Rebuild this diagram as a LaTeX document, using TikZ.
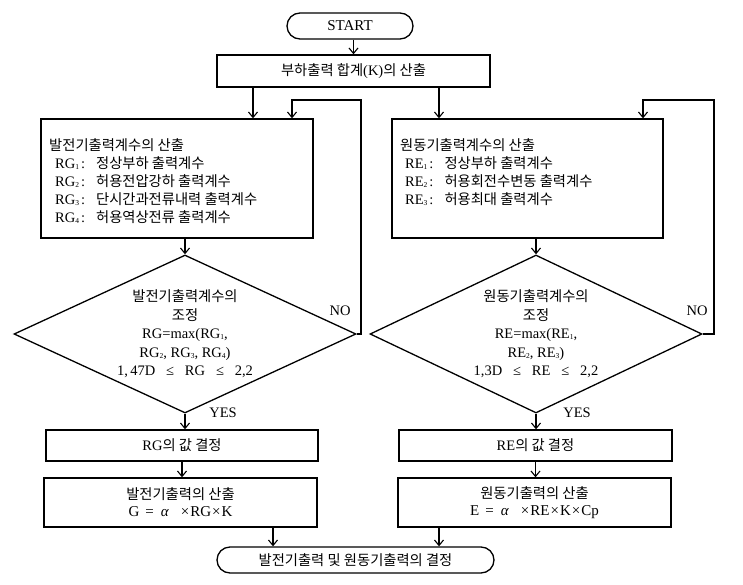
\documentclass[tikz,border=0pt]{standalone}
\usepackage{fontspec}
\setmainfont{Liberation Serif}
\newfontfamily\krf{Noto Sans CJK KR}
\usetikzlibrary{arrows.meta,shapes.geometric}
\newcommand\K[1]{{\krf\fontsize{14.3}{18}\selectfont #1}}
\newcommand\sub[1]{\raisebox{-1pt}{\fontsize{7.5}{7.5}\selectfont #1}}
\begin{document}
\begin{tikzpicture}[x=1pt,y=-1pt,
  font=\fontsize{14.5}{18.5}\selectfont,
  lw/.style={line width=1.3pt},
  boxn/.style={draw,lw,inner sep=0pt,minimum width=#1},
  term/.style={draw,lw,inner sep=0pt,minimum width=#1,minimum height=26pt,rounded corners=13pt},
  dia/.style={draw,lw,diamond,inner sep=0pt,minimum width=#1,minimum height=158pt},
  txt/.style={inner sep=0pt,align=center},
  ltxt/.style={inner sep=0pt,anchor=west},
  arr/.style={lw,-{Straight Barb[length=5.5pt,width=9pt,line width=1.1pt]}}]
\useasboundingbox (0,0) rectangle (743,585);
% terminals and boxes
\node[term=126pt] (start) at (350,26) {\fontsize{15}{16}\selectfont START};
\node[boxn=273pt,minimum height=32pt] (kbox) at (353.5,71) {\K{부하출력 합계}(K)\K{의 산출}};
\node[boxn=272pt,minimum height=119pt] (lbox) at (177,178.5) {};
\node[boxn=271pt,minimum height=119pt] (rbox) at (527.5,178.5) {};
\node[dia=342pt] (ldia) at (185,334) {};
\node[dia=332pt] (rdia) at (536,334) {};
\node[boxn=272pt,minimum height=31pt] (rgbox) at (182,445.5) {RG\K{의 값 결정}};
\node[boxn=273pt,minimum height=31pt] (rebox) at (535.5,445.5) {RE\K{의 값 결정}};
\node[boxn=273pt,minimum height=49pt,align=center,font=\fontsize{15}{17}\selectfont] (gbox) at (180.5,502.5) {\K{발전기출력의 산출}\\G\hspace{6pt}=\hspace{7pt}\textit{α}\hspace{12pt}×\hspace{1pt}RG\hspace{1pt}×\hspace{1pt}K};
\node[boxn=273pt,minimum height=49pt,align=center,font=\fontsize{15}{17}\selectfont] (ebox) at (534.5,502.5) {\K{원동기출력의 산출}\\E\hspace{6pt}=\hspace{7pt}\textit{α}\hspace{12pt}×\hspace{1pt}RE\hspace{1pt}×\hspace{1pt}K\hspace{1pt}×\hspace{1pt}Cp};
\node[term=277pt] (endt) at (355.5,560) {\K{발전기출력 및 원동기출력의 결정}};
% box texts
\node[ltxt] (l1) at (49,145) {\K{발전기출력계수의 산출}};
\node[ltxt] (l2) at (55,163) {RG\sub{1}\hspace{2pt}:\hspace{11pt}\K{정상부하 출력계수}};
\node[ltxt] (l3) at (55,181) {RG\sub{2}\hspace{2pt}:\hspace{11pt}\K{허용전압강하 출력계수}};
\node[ltxt] (l4) at (55,199) {RG\sub{3}\hspace{2pt}:\hspace{11pt}\K{단시간과전류내력 출력계수}};
\node[ltxt] (l5) at (55,217) {RG\sub{4}\hspace{2pt}:\hspace{11pt}\K{허용역상전류 출력계수}};
\node[ltxt] (r1) at (400,145) {\K{원동기출력계수의 산출}};
\node[ltxt] (r2) at (405,163) {RE\sub{1}\hspace{2pt}:\hspace{11pt}\K{정상부하 출력계수}};
\node[ltxt] (r3) at (405,181) {RE\sub{2}\hspace{2pt}:\hspace{11pt}\K{허용회전수변동 출력계수}};
\node[ltxt] (r4) at (405,199) {RE\sub{3}\hspace{2pt}:\hspace{11pt}\K{허용최대 출력계수}};
% diamond texts
\node[txt] (ldt) at (ldia.center) {\K{발전기출력계수의}\\\K{조정}\\RG=max(RG\sub{1},\\RG\sub{2}, RG\sub{3}, RG\sub{4})\\1,\,47D\ \ \ ≤\ \ \ RG\ \ \ ≤\ \ \ 2,2};
\node[txt] (rdt) at (rdia.center) {\K{원동기출력계수의}\\\K{조정}\\RE=max(RE\sub{1},\\RE\sub{2}, RE\sub{3})\\1,3D\ \ \ ≤\ \ \ RE\ \ \ ≤\ \ \ 2,2};
% labels
\node[txt] (noL) at (340,311) {NO};
\node[txt] (noR) at (697,311) {NO};
\node[txt] (yesL) at (223,413) {YES};
\node[txt] (yesR) at (577,413) {YES};
% helper coordinates
\coordinate (kL) at (253,0);
\coordinate (kR) at (439,0);
\coordinate (eL) at (273,0);
\coordinate (eR) at (439,0);
\coordinate (loopL) at (361,100);
\coordinate (inL) at (292,0);
\coordinate (loopR) at (714,100);
\coordinate (inR) at (643,0);
% connectors
\draw[arr] (kbox.north |- start.south) -- (kbox.north);
\draw[arr] (kbox.south -| kL) -- (lbox.north -| kL);
\draw[arr] (kbox.south -| kR) -- (rbox.north -| kR);
\draw[arr] (lbox.south -| ldia.north) -- (ldia.north);
\draw[arr] (rbox.south -| rdia.north) -- (rdia.north);
\draw[arr] (ldia.south) -- (ldia.south |- rgbox.north);
\draw[arr] (rdia.south) -- (rdia.south |- rebox.north);
\draw[arr] (rgbox.south) -- (rgbox.south |- gbox.north);
\draw[arr] (rebox.south) -- (rebox.south |- ebox.north);
\draw[arr] (gbox.south -| eL) -- (endt.north -| eL);
\draw[arr] (ebox.south -| eR) -- (endt.north -| eR);
\draw[arr] (ldia.east) -- (ldia.east -| loopL) -- (loopL) -- (loopL -| inL) -- (lbox.north -| inL);
\draw[arr] (rdia.east) -- (rdia.east -| loopR) -- (loopR) -- (loopR -| inR) -- (rbox.north -| inR);
\end{tikzpicture}
\end{document}
